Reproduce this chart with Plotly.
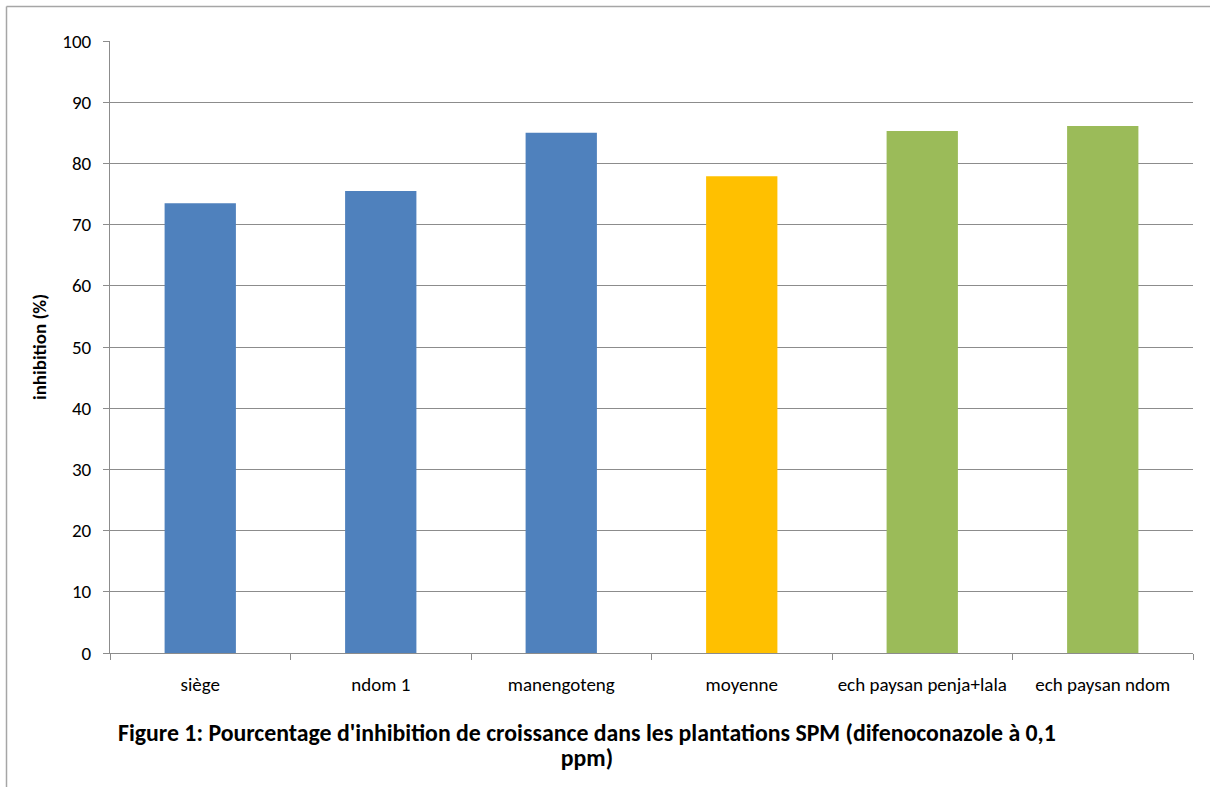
import plotly.graph_objects as go

# Growth-inhibition data (difenoconazole 0.1 ppm)
categories = ["siège", "ndom 1", "manengoteng", "moyenne",
              "ech paysan penja+lala", "ech paysan ndom"]
inhibition = [73.5, 75.5, 85.0, 77.9, 85.3, 86.1]
bar_colors = ["#4F81BD", "#4F81BD", "#4F81BD", "#FFC000", "#9BBB59", "#9BBB59"]
y_ticks = [0, 10, 20, 30, 40, 50, 60, 70, 80, 90, 100]
caption_lines = [
    "Figure 1: Pourcentage d'inhibition de croissance dans les plantations SPM (difenoconazole à 0,1",
    "ppm)",
]

W, H = 1210, 787
L, R, T, B = 110, 17, 41, 134
pw, ph = W - L - R, H - T - B

def px_x(x):
    return (x - L) / pw

def px_y(y):
    return (H - B - y) / ph

FONT = "Carlito, Calibri, Lato, sans-serif"
AXIS_GREY = "#8C8C8C"
FRAME_GREY = "#A6A6A6"

fig = go.Figure(go.Bar(
    x=categories,
    y=inhibition,
    marker=dict(color=bar_colors, line=dict(width=0)),
    hoverinfo="x+y",
))

fig.update_layout(
    width=W, height=H,
    margin=dict(l=L, r=R, t=T, b=B, pad=0, autoexpand=False),
    paper_bgcolor="white",
    plot_bgcolor="white",
    bargap=0.605,
    showlegend=False,
    font=dict(family=FONT, size=19, color="#000000"),
)

fig.update_xaxes(
    type="category",
    automargin=False,
    tickangle=0,
    showline=True, linecolor=AXIS_GREY, linewidth=1,
    ticks="outside", tickson="boundaries", ticklen=6, tickcolor=AXIS_GREY,
    showgrid=False,
    tickfont=dict(family=FONT, size=19, color="#000000"),
    ticklabelstandoff=14,
)

fig.update_yaxes(
    range=[0, 100],
    automargin=False,
    tickvals=y_ticks,
    showline=True, linecolor=AXIS_GREY, linewidth=1,
    ticks="outside", ticklen=6, tickcolor=AXIS_GREY,
    showgrid=True, gridcolor=AXIS_GREY, gridwidth=1,
    zeroline=False,
    tickfont=dict(family=FONT, size=19, color="#000000"),
    ticklabelstandoff=8,
)

# Y-axis title
fig.add_annotation(
    text="<b>inhibition (%)</b>",
    xref="paper", yref="paper",
    x=px_x(39), y=px_y(347),
    xanchor="center", yanchor="middle",
    textangle=-90, showarrow=False,
    font=dict(family=FONT, size=19, color="#000000"),
)

# Figure caption: base size sets the line pitch, spans set the glyph size
caption_html = "<br>".join(
    f"<span style='font-size:23.8px'><b>{t}</b></span>" for t in caption_lines
)
fig.add_annotation(
    text=caption_html,
    xref="paper", yref="paper",
    x=px_x(587), y=px_y(745),
    xanchor="center", yanchor="middle", align="center",
    showarrow=False,
    font=dict(family=FONT, size=19.5, color="#000000"),
)

# Outer chart-area frame (top and left edges)
fig.add_shape(
    type="line", xref="paper", yref="paper",
    x0=px_x(6.5), x1=px_x(W + 5), y0=px_y(6.5), y1=px_y(6.5),
    line=dict(color=FRAME_GREY, width=1.5), layer="below",
)
fig.add_shape(
    type="line", xref="paper", yref="paper",
    x0=px_x(6.5), x1=px_x(6.5), y0=px_y(6.5), y1=px_y(H + 5),
    line=dict(color=FRAME_GREY, width=1.5), layer="below",
)

fig.write_html("out.html")
